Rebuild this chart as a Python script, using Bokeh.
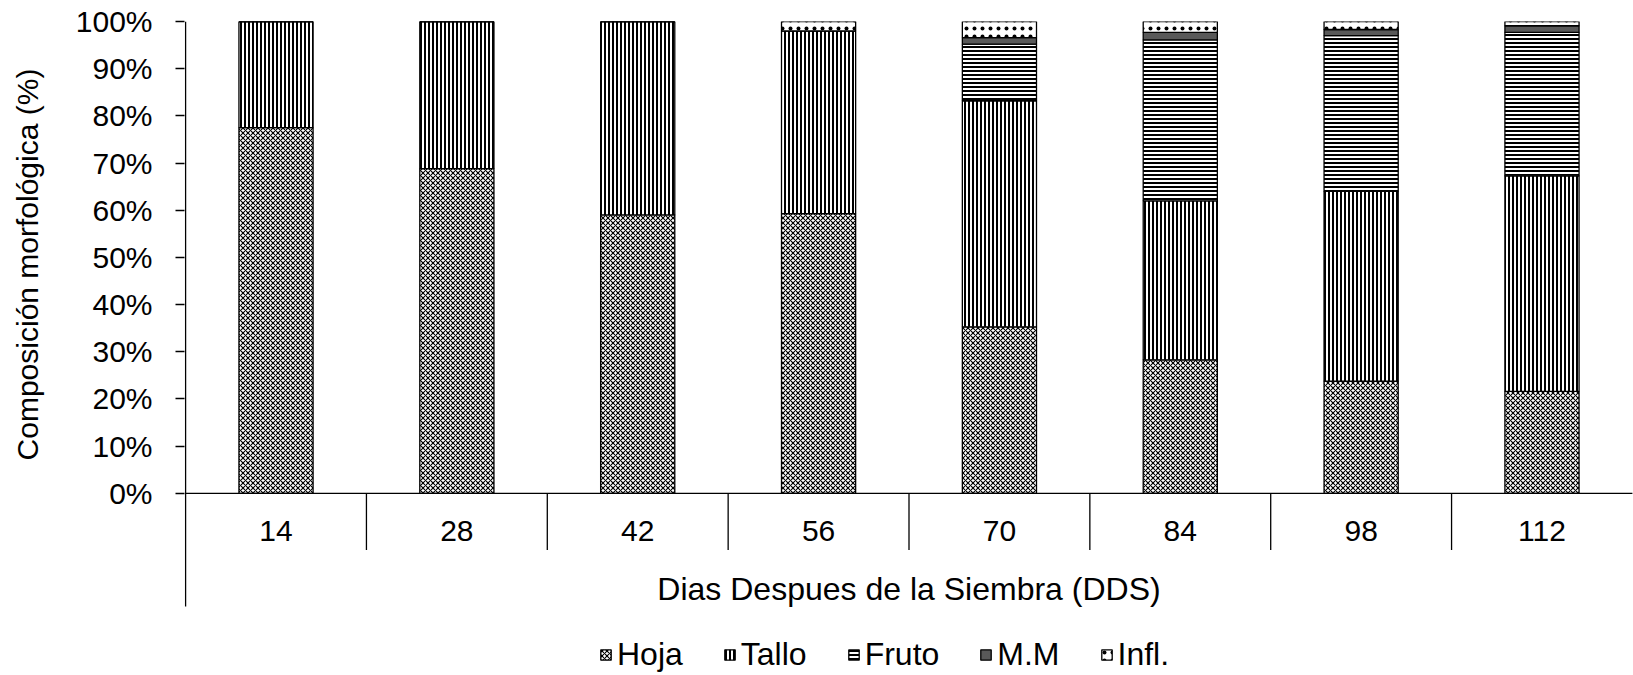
import math
from bokeh.plotting import figure
from bokeh.layouts import row
from bokeh.models import (ColumnDataSource, FactorRange, Range1d, FixedTicker,
                          PrintfTickFormatter, Legend)
from bokeh.core.properties import value
from bokeh.embed import file_html
from bokeh.resources import INLINE

# ---- data (percent of dry matter) ----
days = ["14", "28", "42", "56", "70", "84", "98", "112"]
hoja = [77.5, 68.8, 59.0, 59.3, 35.3, 28.3, 23.8, 21.6]
tallo = [22.5, 31.2, 41.0, 38.7, 47.9, 33.7, 40.2, 45.7]
fruto = [0, 0, 0, 0, 12.0, 34.1, 33.0, 30.4]
mm = [0, 0, 0, 0, 1.4, 1.6, 1.3, 1.4]
infl = [0, 0, 0, 2.0, 3.4, 2.3, 1.7, 0.9]
series = ["Hoja", "Tallo", "Fruto", "M.M", "Infl."]
y_ticks = [0, 10, 20, 30, 40, 50, 60, 70, 80, 90, 100]
x_title = "Dias Despues de la Siembra (DDS)"
y_title = "Composición morfológica (%)"

FONT = "Liberation Sans"
FS = "30px"

source = ColumnDataSource(dict(day=days, Hoja=hoja, Tallo=tallo, Fruto=fruto,
                               **{"M.M": mm, "Infl.": infl}))

yrange = Range1d(-38.6, 100)

# narrow strip holding the y-axis title
left = figure(width=50, height=675, output_backend="svg", toolbar_location=None,
              x_range=Range1d(0, 1), y_range=yrange,
              min_border_left=0, min_border_right=0, min_border_top=21,
              min_border_bottom=0)
left.outline_line_color = None
left.axis.visible = False
left.grid.visible = False
left.background_fill_color = "white"
left.border_fill_color = "white"
left.text(x=[0.54], y=[48.5], text=[y_title], angle=math.pi / 2,
          text_align="center", text_baseline="middle",
          text_font=value(FONT), text_font_size=FS, text_color="black")

p = figure(width=1583, height=675, output_backend="svg", toolbar_location=None,
           x_range=FactorRange(factors=days, range_padding=0.0015),
           y_range=yrange,
           min_border_left=134, min_border_right=0, min_border_top=21,
           min_border_bottom=0)
p.outline_line_color = None
p.xgrid.visible = False
p.ygrid.visible = False
p.xaxis.visible = False
p.background_fill_color = "white"
p.border_fill_color = "white"

renderers = p.vbar_stack(
    series, x="day", width=0.41, source=source,
    fill_color=["white", "white", "white", "#595959", "white"],
    hatch_pattern=["diagonal_cross", "vertical_line", "horizontal_line", "blank", "dot"],
    hatch_scale=[5, 4, 4, 4, 8],
    hatch_weight=[1.1, 2.0, 2.0, 1.0, 1.0],
    hatch_color="black",
    line_color="black", line_width=1.3)

# y axis (ticks + labels); its line is drawn as a segment so it can stop at the category block
yax = p.yaxis[0]
yax.ticker = FixedTicker(ticks=y_ticks)
yax.formatter = PrintfTickFormatter(format="%d%%")
yax.major_tick_out = 9
yax.major_tick_in = 0
yax.minor_tick_out = 0
yax.minor_tick_in = 0
yax.major_label_text_font = FONT
yax.major_label_text_font_size = FS
yax.major_label_text_color = "black"
yax.major_label_standoff = 23
yax.axis_line_color = None
yax.major_tick_line_color = "black"
yax.major_tick_line_width = 1.3

# category axis drawn within the frame
n = len(days)
p.segment(x0=[0], y0=[-24.0], x1=[0], y1=[100], line_color="black", line_width=1.3)
p.segment(x0=[0], y0=[0], x1=[n], y1=[0], line_color="black", line_width=1.3)
p.segment(x0=list(range(1, n)), y0=[0] * (n - 1), x1=list(range(1, n)),
          y1=[-12.0] * (n - 1), line_color="black", line_width=1.3)
p.text(x=days, y=[-7.9] * n, text=days, text_align="center", text_baseline="middle",
       text_font=value(FONT), text_font_size=FS, text_color="black")
p.text(x=[n / 2], y=[-20.3], text=[x_title], text_align="center", text_baseline="middle",
       text_font=value(FONT), text_font_size="32px", text_color="black")

legend = Legend(items=[(s, [r]) for s, r in zip(series, renderers)],
                orientation="horizontal", location=(415, 2),
                label_text_font=FONT, label_text_font_size="32px",
                label_text_color="black", glyph_width=13, glyph_height=13,
                label_standoff=5, spacing=40, padding=0, margin=0,
                border_line_color=None, background_fill_alpha=0)
p.add_layout(legend, "center")

layout = row(left, p, spacing=0)
open("out.html", "w").write(file_html(layout, INLINE))
